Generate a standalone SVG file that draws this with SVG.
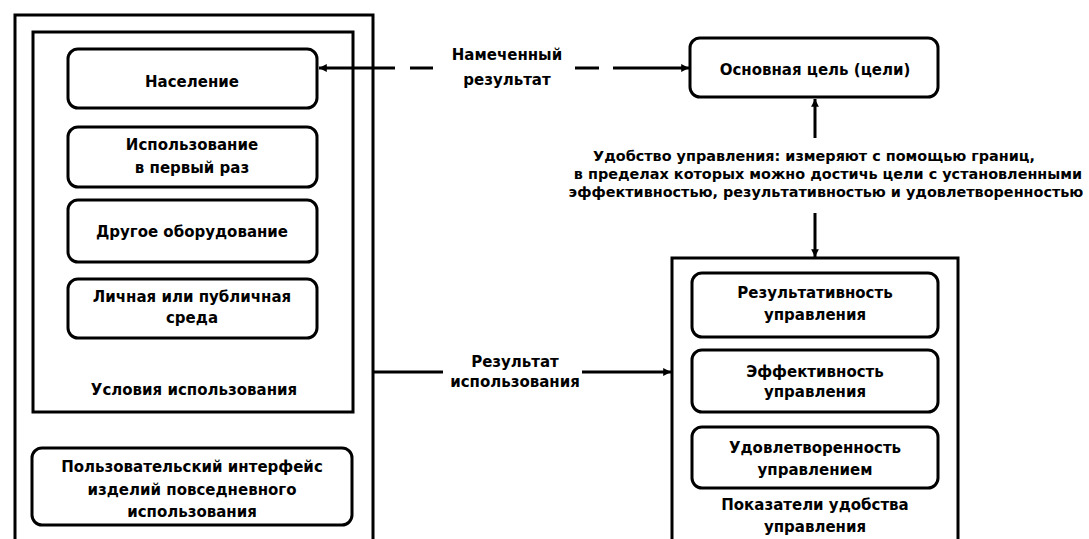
<svg xmlns="http://www.w3.org/2000/svg" width="1089" height="539" viewBox="0 0 1089 539">
<style>
.box{fill:none;stroke:#000;stroke-width:3}
.rbox{fill:#fff;stroke:#000;stroke-width:3}
.ln{fill:none;stroke:#000;stroke-width:3}
.t{font-family:"DejaVu Sans","Liberation Sans",sans-serif;font-weight:bold;font-size:15px;fill:#000;text-anchor:middle}
.m{font-size:14.4px}
</style>
<defs>
<marker id="ah" viewBox="0 0 10 10" refX="10" refY="5" markerWidth="3.2" markerHeight="2.6" orient="auto" markerUnits="strokeWidth">
<path d="M0,0 L10,5 L0,10 Z" fill="#000"/>
</marker>
</defs>
<rect width="1089" height="539" fill="#fff"/>

<g id="outer-left"><rect class="box" x="15" y="15" width="358" height="535"/></g>
<g id="context-of-use">
<rect class="box" x="33" y="32" width="320" height="380"/>
<text class="t" x="194" y="395">Условия использования</text>
</g>
<g id="population"><rect class="rbox" x="68" y="49" width="249" height="59" rx="10"/><text class="t" x="192" y="87">Население</text></g>
<g id="first-use"><rect class="rbox" x="68" y="127" width="249" height="60" rx="10"/><text class="t" x="192" y="150">Использование</text><text class="t" x="192" y="173">в первый раз</text></g>
<g id="other-equipment"><rect class="rbox" x="68" y="200" width="249" height="62" rx="10"/><text class="t" x="192" y="237">Другое оборудование</text></g>
<g id="environment"><rect class="rbox" x="68" y="279" width="249" height="59" rx="10"/><text class="t" x="192" y="302">Личная или публичная</text><text class="t" x="192" y="323">среда</text></g>
<g id="user-interface"><rect class="rbox" x="32" y="448" width="320" height="77" rx="10"/><text class="t" x="192" y="472">Пользовательский интерфейс</text><text class="t" x="192" y="495">изделий повседневного</text><text class="t" x="192" y="517">использования</text></g>

<g id="main-goal"><rect class="rbox" x="690" y="38" width="248" height="59" rx="10"/><text class="t" x="815" y="75">Основная цель (цели)</text></g>

<g id="measures">
<rect class="box" x="672" y="258" width="286" height="292"/>
<text class="t" x="815" y="510">Показатели удобства</text>
<text class="t" x="815" y="532">управления</text>
</g>
<g id="effectiveness"><rect class="rbox" x="692" y="273" width="246" height="64" rx="10"/><text class="t" x="815" y="298">Результативность</text><text class="t" x="815" y="320">управления</text></g>
<g id="efficiency"><rect class="rbox" x="692" y="350" width="246" height="62" rx="10"/><text class="t" x="815" y="377">Эффективность</text><text class="t" x="815" y="397">управления</text></g>
<g id="satisfaction"><rect class="rbox" x="692" y="427" width="246" height="61" rx="10"/><text class="t" x="815" y="453">Удовлетворенность</text><text class="t" x="815" y="475">управлением</text></g>

<g id="connectors">
<line class="ln" x1="395" y1="68" x2="319" y2="68" marker-end="url(#ah)"/>
<line class="ln" x1="410" y1="68" x2="433" y2="68"/>
<line class="ln" x1="575" y1="68" x2="599" y2="68"/>
<line class="ln" x1="613" y1="68" x2="689" y2="68" marker-end="url(#ah)"/>
<line class="ln" x1="815" y1="138" x2="815" y2="99" marker-end="url(#ah)"/>
<line class="ln" x1="815" y1="213" x2="815" y2="257" marker-end="url(#ah)"/>
<line class="ln" x1="373" y1="372" x2="443" y2="372"/>
<line class="ln" x1="582" y1="372" x2="671" y2="372" marker-end="url(#ah)"/>
</g>
<g id="labels">
<text class="t" x="507" y="60">Намеченный</text>
<text class="t" x="507" y="85">результат</text>
<text class="t" x="515" y="367">Результат</text>
<text class="t" x="515" y="387">использования</text>
<text class="t m" x="814" y="161">Удобство управления: измеряют с помощью границ,</text>
<text class="t m" x="828" y="179">в пределах которых можно достичь цели с установленными</text>
<text class="t m" x="826" y="197">эффективностью, результативностью и удовлетворенностью</text>
</g>
</svg>
